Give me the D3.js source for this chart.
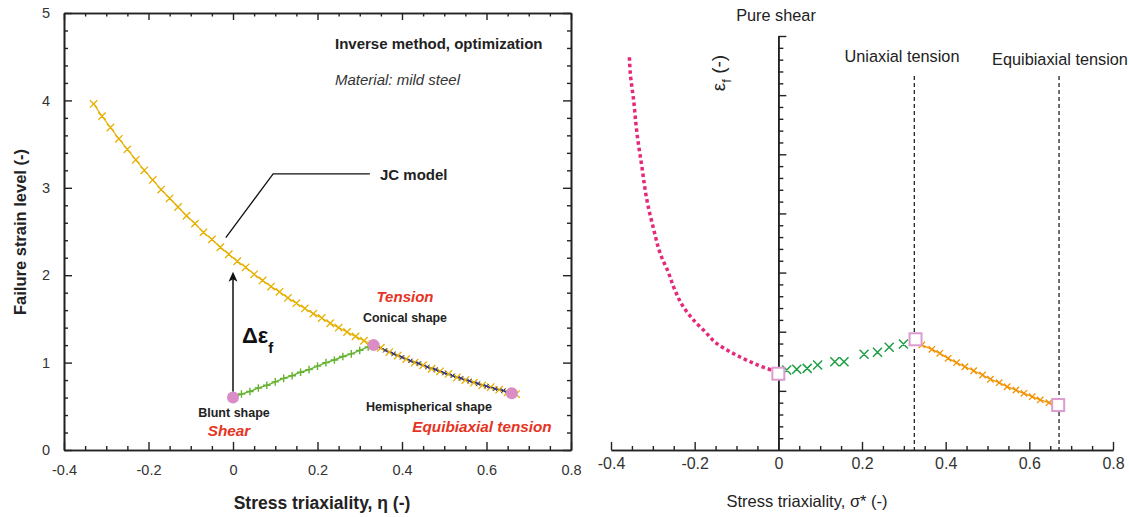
<!DOCTYPE html>
<html>
<head>
<meta charset="utf-8">
<script src="https://cdn.jsdelivr.net/npm/d3@7"></script>
<style>
  html, body { margin: 0; padding: 0; background: #fff; }
  svg { display: block; font-family: Arial, "Liberation Sans", Helvetica, sans-serif; }
</style>
</head>
<body>
<svg id="chart" width="1129" height="517"></svg>
<script>
// ---------------- DATA (left panel) ----------------
const jcEta = [-0.33,-0.31,-0.29,-0.27,-0.25,-0.23,-0.21,-0.19,-0.17,-0.15,-0.13,-0.11,-0.09,-0.07,-0.05,-0.03,-0.01,
  0.01,0.03,0.05,0.07,0.09,0.11,0.13,0.15,0.17,0.19,0.21,0.23,0.25,0.27,0.29,0.31,0.33,0.35,0.37,0.39,0.41,0.43,0.45,
  0.47,0.49,0.51,0.53,0.55,0.57,0.59,0.61,0.63,0.65,0.67];
const jcEps = [3.96,3.82,3.69,3.56,3.44,3.32,3.20,3.09,2.98,2.88,2.78,2.68,2.59,2.49,2.41,2.32,2.24,
  2.16,2.09,2.01,1.94,1.87,1.81,1.74,1.68,1.62,1.56,1.51,1.45,1.40,1.35,1.30,1.25,1.21,1.17,1.12,1.08,1.04,1.00,0.97,
  0.93,0.90,0.87,0.83,0.80,0.77,0.74,0.72,0.69,0.66,0.64];
const shearEta = [0,0.02,0.04,0.06,0.08,0.10,0.12,0.14,0.16,0.18,0.20,0.22,0.24,0.26,0.28,0.30,0.32,0.333];
const shearEps = [0.60,0.64,0.67,0.71,0.74,0.78,0.82,0.85,0.89,0.92,0.96,1.00,1.03,1.07,1.10,1.14,1.18,1.20];
const tensEta = [0.333,0.34,0.36,0.38,0.40,0.42,0.44,0.46,0.48,0.50,0.52,0.54,0.56,0.58,0.60,0.62,0.64,0.66];
const tensEps = [1.20,1.19,1.14,1.10,1.06,1.02,0.99,0.95,0.92,0.88,0.85,0.82,0.79,0.76,0.73,0.70,0.68,0.65];
const keyEta = [0, 0.333, 0.66];
const keyEps = [0.60, 1.20, 0.65];
const xTicksL = [-0.4,-0.2,0,0.2,0.4,0.6,0.8];
const yTicksL = [0,1,2,3,4,5];
const arrowEta = [0, 0];
const arrowEps = [0.60, 2.04];
const jcLeaderEta = [-0.017, 0.095, 0.324];
const jcLeaderEps = [2.43, 3.16, 3.16];

// ---------------- DATA (right panel) ----------------
const pinkEta = [-0.356,-0.354,-0.346,-0.338,-0.326,-0.314,-0.299,-0.279,-0.265,-0.247,-0.227,-0.203,-0.175,-0.147,-0.115,-0.076,-0.036,-0.012,0];
const pinkEps = [3.32,3.19,2.96,2.68,2.39,2.11,1.88,1.63,1.52,1.35,1.21,1.10,1.00,0.90,0.83,0.76,0.70,0.67,0.645];
const greenEta = [0.020,0.044,0.069,0.094,0.135,0.157,0.205,0.237,0.265,0.299];
const greenEps = [0.676,0.682,0.690,0.718,0.746,0.746,0.809,0.826,0.868,0.896];
const orangeEta = [0.328,0.343,0.367,0.386,0.406,0.426,0.446,0.467,0.488,0.507,0.528,0.547,0.568,0.587,0.607,0.626,0.647,0.669];
const orangeEps = [0.936,0.888,0.851,0.817,0.775,0.738,0.704,0.670,0.634,0.598,0.569,0.535,0.507,0.479,0.451,0.423,0.400,0.380];
const squareEta = [0, 0.328, 0.669];
const squareEps = [0.645, 0.936, 0.380];
const refLineEta = [0.325, 0.671];
const xTicksR = [-0.4,-0.2,0,0.2,0.4,0.6,0.8];

// ---------------- SETUP ----------------
const svg = d3.select("#chart");
svg.append("rect").attr("width",1129).attr("height",517).attr("fill","#fff");
const axisCol = "#222", labCol = "#333";
const red = "#e63323", yellow = "#e6b000", lgreen = "#64b22f", navy = "#27318f",
      pinkDot = "#d98cc6", magenta = "#e6287a", dgreen = "#1d9e45", orange = "#f39200", sqCol = "#dc9ccf";
const fmt = d => String(d);

function styleAxis(g, fs) {
  g.selectAll("path.domain").attr("stroke", axisCol).attr("stroke-width", 1.6);
  g.selectAll(".tick line").attr("stroke", axisCol).attr("stroke-width", 1.4);
  g.selectAll(".tick text").attr("fill", labCol).attr("font-size", fs || 14.5)
    .attr("font-family", 'Arial, "Liberation Sans", Helvetica, sans-serif');
}
function crossPath(cx, cy, s) { return `M${cx-s},${cy-s}L${cx+s},${cy+s}M${cx-s},${cy+s}L${cx+s},${cy-s}`; }
function plusPath(cx, cy, s) { return `M${cx-s},${cy}L${cx+s},${cy}M${cx},${cy-s}L${cx},${cy+s}`; }
const range = (a, b, st) => d3.range(Math.round((b - a) / st) + 1).map(i => +(a + i * st).toFixed(4));

// ================= LEFT PANEL =================
const xL = d3.scaleLinear([-0.4, 0.8], [64, 571]);
const yL = d3.scaleLinear([0, 5], [450, 13]);
const L = svg.append("g");

const minXL = range(-0.4, 0.8, 0.05).filter(v => !xTicksL.some(t => Math.abs(t - v) < 1e-6));
const minYL = range(0, 5, 0.2).filter(v => !yTicksL.some(t => Math.abs(t - v) < 1e-6));

L.append("g").attr("transform","translate(0,450)")
  .call(d3.axisBottom(xL).tickValues(xTicksL).tickSizeInner(-8).tickSizeOuter(0).tickPadding(15).tickFormat(fmt))
  .call(styleAxis);
L.append("g").attr("transform","translate(0,450)")
  .call(d3.axisBottom(xL).tickValues(minXL).tickSizeInner(-4).tickSizeOuter(0).tickFormat(""))
  .call(styleAxis);
L.append("g").attr("transform","translate(0,13)")
  .call(d3.axisTop(xL).tickValues(xTicksL).tickSizeInner(-7).tickSizeOuter(0).tickFormat(""))
  .call(styleAxis);
L.append("g").attr("transform","translate(0,13)")
  .call(d3.axisTop(xL).tickValues(minXL).tickSizeInner(-3.5).tickSizeOuter(0).tickFormat(""))
  .call(styleAxis);
L.append("g").attr("transform","translate(64,0)")
  .call(d3.axisLeft(yL).tickValues(yTicksL).tickSizeInner(-8).tickSizeOuter(0).tickPadding(14).tickFormat(fmt))
  .call(styleAxis);
L.append("g").attr("transform","translate(64,0)")
  .call(d3.axisLeft(yL).tickValues(minYL).tickSizeInner(-4).tickSizeOuter(0).tickFormat(""))
  .call(styleAxis);
L.append("g").attr("transform","translate(571,0)")
  .call(d3.axisRight(yL).tickValues(yTicksL).tickSizeInner(-8).tickSizeOuter(0).tickFormat(""))
  .call(styleAxis);
L.append("g").attr("transform","translate(571,0)")
  .call(d3.axisRight(yL).tickValues(minYL).tickSizeInner(-4).tickSizeOuter(0).tickFormat(""))
  .call(styleAxis);

const lineL = d3.line().x(d => xL(d[0])).y(d => yL(d[1]));
const jcData = jcEta.map((e, i) => [e, jcEps[i]]);
const shData = shearEta.map((e, i) => [e, shearEps[i]]);
const tnData = tensEta.map((e, i) => [e, tensEps[i]]);

L.append("path").attr("d", lineL(jcData)).attr("fill","none").attr("stroke", yellow).attr("stroke-width", 1.2);
L.append("path").attr("d", lineL(shData)).attr("fill","none").attr("stroke", lgreen).attr("stroke-width", 1.4);
L.append("path").attr("d", shData.slice(1, -1).map(d => plusPath(xL(d[0]), yL(d[1]), 3.8)).join(""))
  .attr("stroke", lgreen).attr("stroke-width", 1.4).attr("fill","none");
L.append("path").attr("d", lineL(tnData)).attr("fill","none").attr("stroke", navy).attr("stroke-width", 1.6);
L.append("path").attr("d", jcData.map(d => crossPath(xL(d[0]), yL(d[1]), 3.7)).join(""))
  .attr("stroke", yellow).attr("stroke-width", 1.3).attr("fill","none");
L.append("path").attr("d", tnData.slice(1).map(d => crossPath(xL(d[0]), yL(d[1]), 2.2)).join(""))
  .attr("stroke", navy).attr("stroke-width", 1).attr("fill","none");
L.selectAll("circle.key").data(keyEta.map((e, i) => [e, keyEps[i]])).join("circle")
  .attr("cx", d => xL(d[0])).attr("cy", d => yL(d[1])).attr("r", 6).attr("fill", pinkDot);

const ax0 = xL(arrowEta[0]), ay0 = yL(arrowEps[0]) - 6, ay1 = yL(arrowEps[1]);
L.append("line").attr("x1", ax0).attr("x2", ax0).attr("y1", ay0).attr("y2", ay1 + 6)
  .attr("stroke", "#111").attr("stroke-width", 1.5);
L.append("path").attr("d", `M${ax0},${ay1}L${ax0-4.5},${ay1+10}L${ax0},${ay1+7.5}L${ax0+4.5},${ay1+10}Z`).attr("fill", "#111");
const dt = L.append("text").attr("x", 242).attr("y", 343).attr("font-size", 22).attr("font-weight", "bold").attr("fill", "#111");
dt.append("tspan").text("Δε");
dt.append("tspan").attr("dy", 10).attr("font-size", 15).text("f");

L.append("path").attr("d", d3.line()(jcLeaderEta.map((e, i) => [xL(e), yL(jcLeaderEps[i])])))
  .attr("fill","none").attr("stroke","#111").attr("stroke-width", 1.3);
L.append("text").attr("x", 380).attr("y", 180).attr("font-size", 15).attr("font-weight","bold").attr("fill","#222").text("JC model");

L.append("text").attr("x", 335).attr("y", 48.5).attr("font-size", 15).attr("font-weight","bold").attr("fill","#222").text("Inverse method, optimization");
L.append("text").attr("x", 335).attr("y", 85).attr("font-size", 15).attr("font-style","italic").attr("fill","#333").text("Material: mild steel");

function lbl(x, y, t, o) {
  const s = L.append("text").attr("x", x).attr("y", y).attr("text-anchor","middle").text(t)
    .attr("font-weight","bold").attr("font-size", o.size).attr("fill", o.col || "#222");
  if (o.italic) s.attr("font-style","italic");
}
lbl(405, 302, "Tension", {size: 15, col: red, italic: true});
lbl(405, 322, "Conical shape", {size: 12.4});
lbl(429, 411, "Hemispherical shape", {size: 12.6});
lbl(482, 432, "Equibiaxial tension", {size: 15.3, col: red, italic: true});
lbl(234, 417, "Blunt shape", {size: 12.5});
lbl(229, 436, "Shear", {size: 15.3, col: red, italic: true});

L.append("text").attr("transform","translate(26,232) rotate(-90)").attr("text-anchor","middle")
  .attr("font-size", 16.5).attr("font-weight","bold").attr("fill","#222").text("Failure strain level (-)");
L.append("text").attr("x", 322).attr("y", 509).attr("text-anchor","middle")
  .attr("font-size", 17.5).attr("font-weight","bold").attr("fill","#222").text("Stress triaxiality, η (-)");

// ================= RIGHT PANEL =================
const xR = d3.scaleLinear([-0.4, 0.8], [611, 1113]);
const yR = d3.scaleLinear([0, 3.5], [450, 36]);
const R = svg.append("g");
const minXR = range(-0.4, 0.8, 0.05).filter(v => !xTicksR.some(t => Math.abs(t - v) < 1e-6));
const majYR = range(0, 3.5, 0.5);
const minYR = range(0, 3.5, 0.1).filter(v => !majYR.some(t => Math.abs(t - v) < 1e-6));

R.append("g").attr("transform","translate(0,450)")
  .call(d3.axisBottom(xR).tickValues(xTicksR).tickSizeInner(-8).tickSizeOuter(0).tickPadding(8).tickFormat(fmt))
  .call(g => styleAxis(g, 16));
R.append("g").attr("transform","translate(0,450)")
  .call(d3.axisBottom(xR).tickValues(minXR).tickSizeInner(-4).tickSizeOuter(0).tickFormat(""))
  .call(styleAxis);
R.append("g").attr("transform",`translate(${xR(0)},0)`)
  .call(d3.axisRight(yR).tickValues(majYR.filter(v => v > 0)).tickSizeInner(8).tickSizeOuter(0).tickFormat(""))
  .call(styleAxis);
R.append("g").attr("transform",`translate(${xR(0)},0)`)
  .call(d3.axisRight(yR).tickValues(minYR).tickSizeInner(5).tickSizeOuter(0).tickFormat(""))
  .call(styleAxis);

R.selectAll("line.ref").data(refLineEta).join("line")
  .attr("x1", d => xR(d)).attr("x2", d => xR(d)).attr("y1", 76).attr("y2", 450)
  .attr("stroke", "#111").attr("stroke-width", 1.2).attr("stroke-dasharray", "4,3");

const lineR = d3.line().x(d => xR(d[0])).y(d => yR(d[1]));
R.append("path").attr("d", d3.line().x(d => xR(d[0])).y(d => yR(d[1])).curve(d3.curveMonotoneY)(pinkEta.map((e, i) => [e, pinkEps[i]])))
  .attr("fill","none").attr("stroke", magenta).attr("stroke-width", 3.5).attr("stroke-dasharray", "3.5,3");
R.append("path").attr("d", greenEta.map((e, i) => crossPath(xR(e), yR(greenEps[i]), 4.5)).join(""))
  .attr("stroke", dgreen).attr("stroke-width", 1.5).attr("fill","none");
const orData = orangeEta.map((e, i) => [e, orangeEps[i]]);
R.append("path").attr("d", lineR(orData)).attr("fill","none").attr("stroke", orange).attr("stroke-width", 1.3);
R.append("path").attr("d", orData.slice(1, -1).map(d => crossPath(xR(d[0]), yR(d[1]), 3.2)).join(""))
  .attr("stroke", orange).attr("stroke-width", 1.3).attr("fill","none");
R.selectAll("rect.sq").data(squareEta.map((e, i) => [e, squareEps[i]])).join("rect")
  .attr("x", d => xR(d[0]) - 6).attr("y", d => yR(d[1]) - 6).attr("width", 12).attr("height", 12)
  .attr("fill", "#fff").attr("stroke", sqCol).attr("stroke-width", 2);

R.append("text").attr("x", 776).attr("y", 21).attr("text-anchor","middle").attr("font-size", 16.3).attr("fill","#222").text("Pure shear");
R.append("text").attr("x", 902).attr("y", 62).attr("text-anchor","middle").attr("font-size", 16.3).attr("fill","#222").text("Uniaxial tension");
R.append("text").attr("x", 1060).attr("y", 65).attr("text-anchor","middle").attr("font-size", 16.3).attr("fill","#222").text("Equibiaxial tension");
const ef = R.append("text").attr("transform","translate(725,73) rotate(-90)").attr("text-anchor","middle")
  .attr("font-size", 19).attr("fill","#222");
ef.append("tspan").text("ε");
ef.append("tspan").attr("dy", 6).attr("font-size", 13).text("f");
ef.append("tspan").attr("dy", -6).text(" (-)");
R.append("text").attr("x", 807).attr("y", 507).attr("text-anchor","middle").attr("font-size", 16.5).attr("fill","#222")
  .text("Stress triaxiality, σ* (-)");
</script>
</body>
</html>
